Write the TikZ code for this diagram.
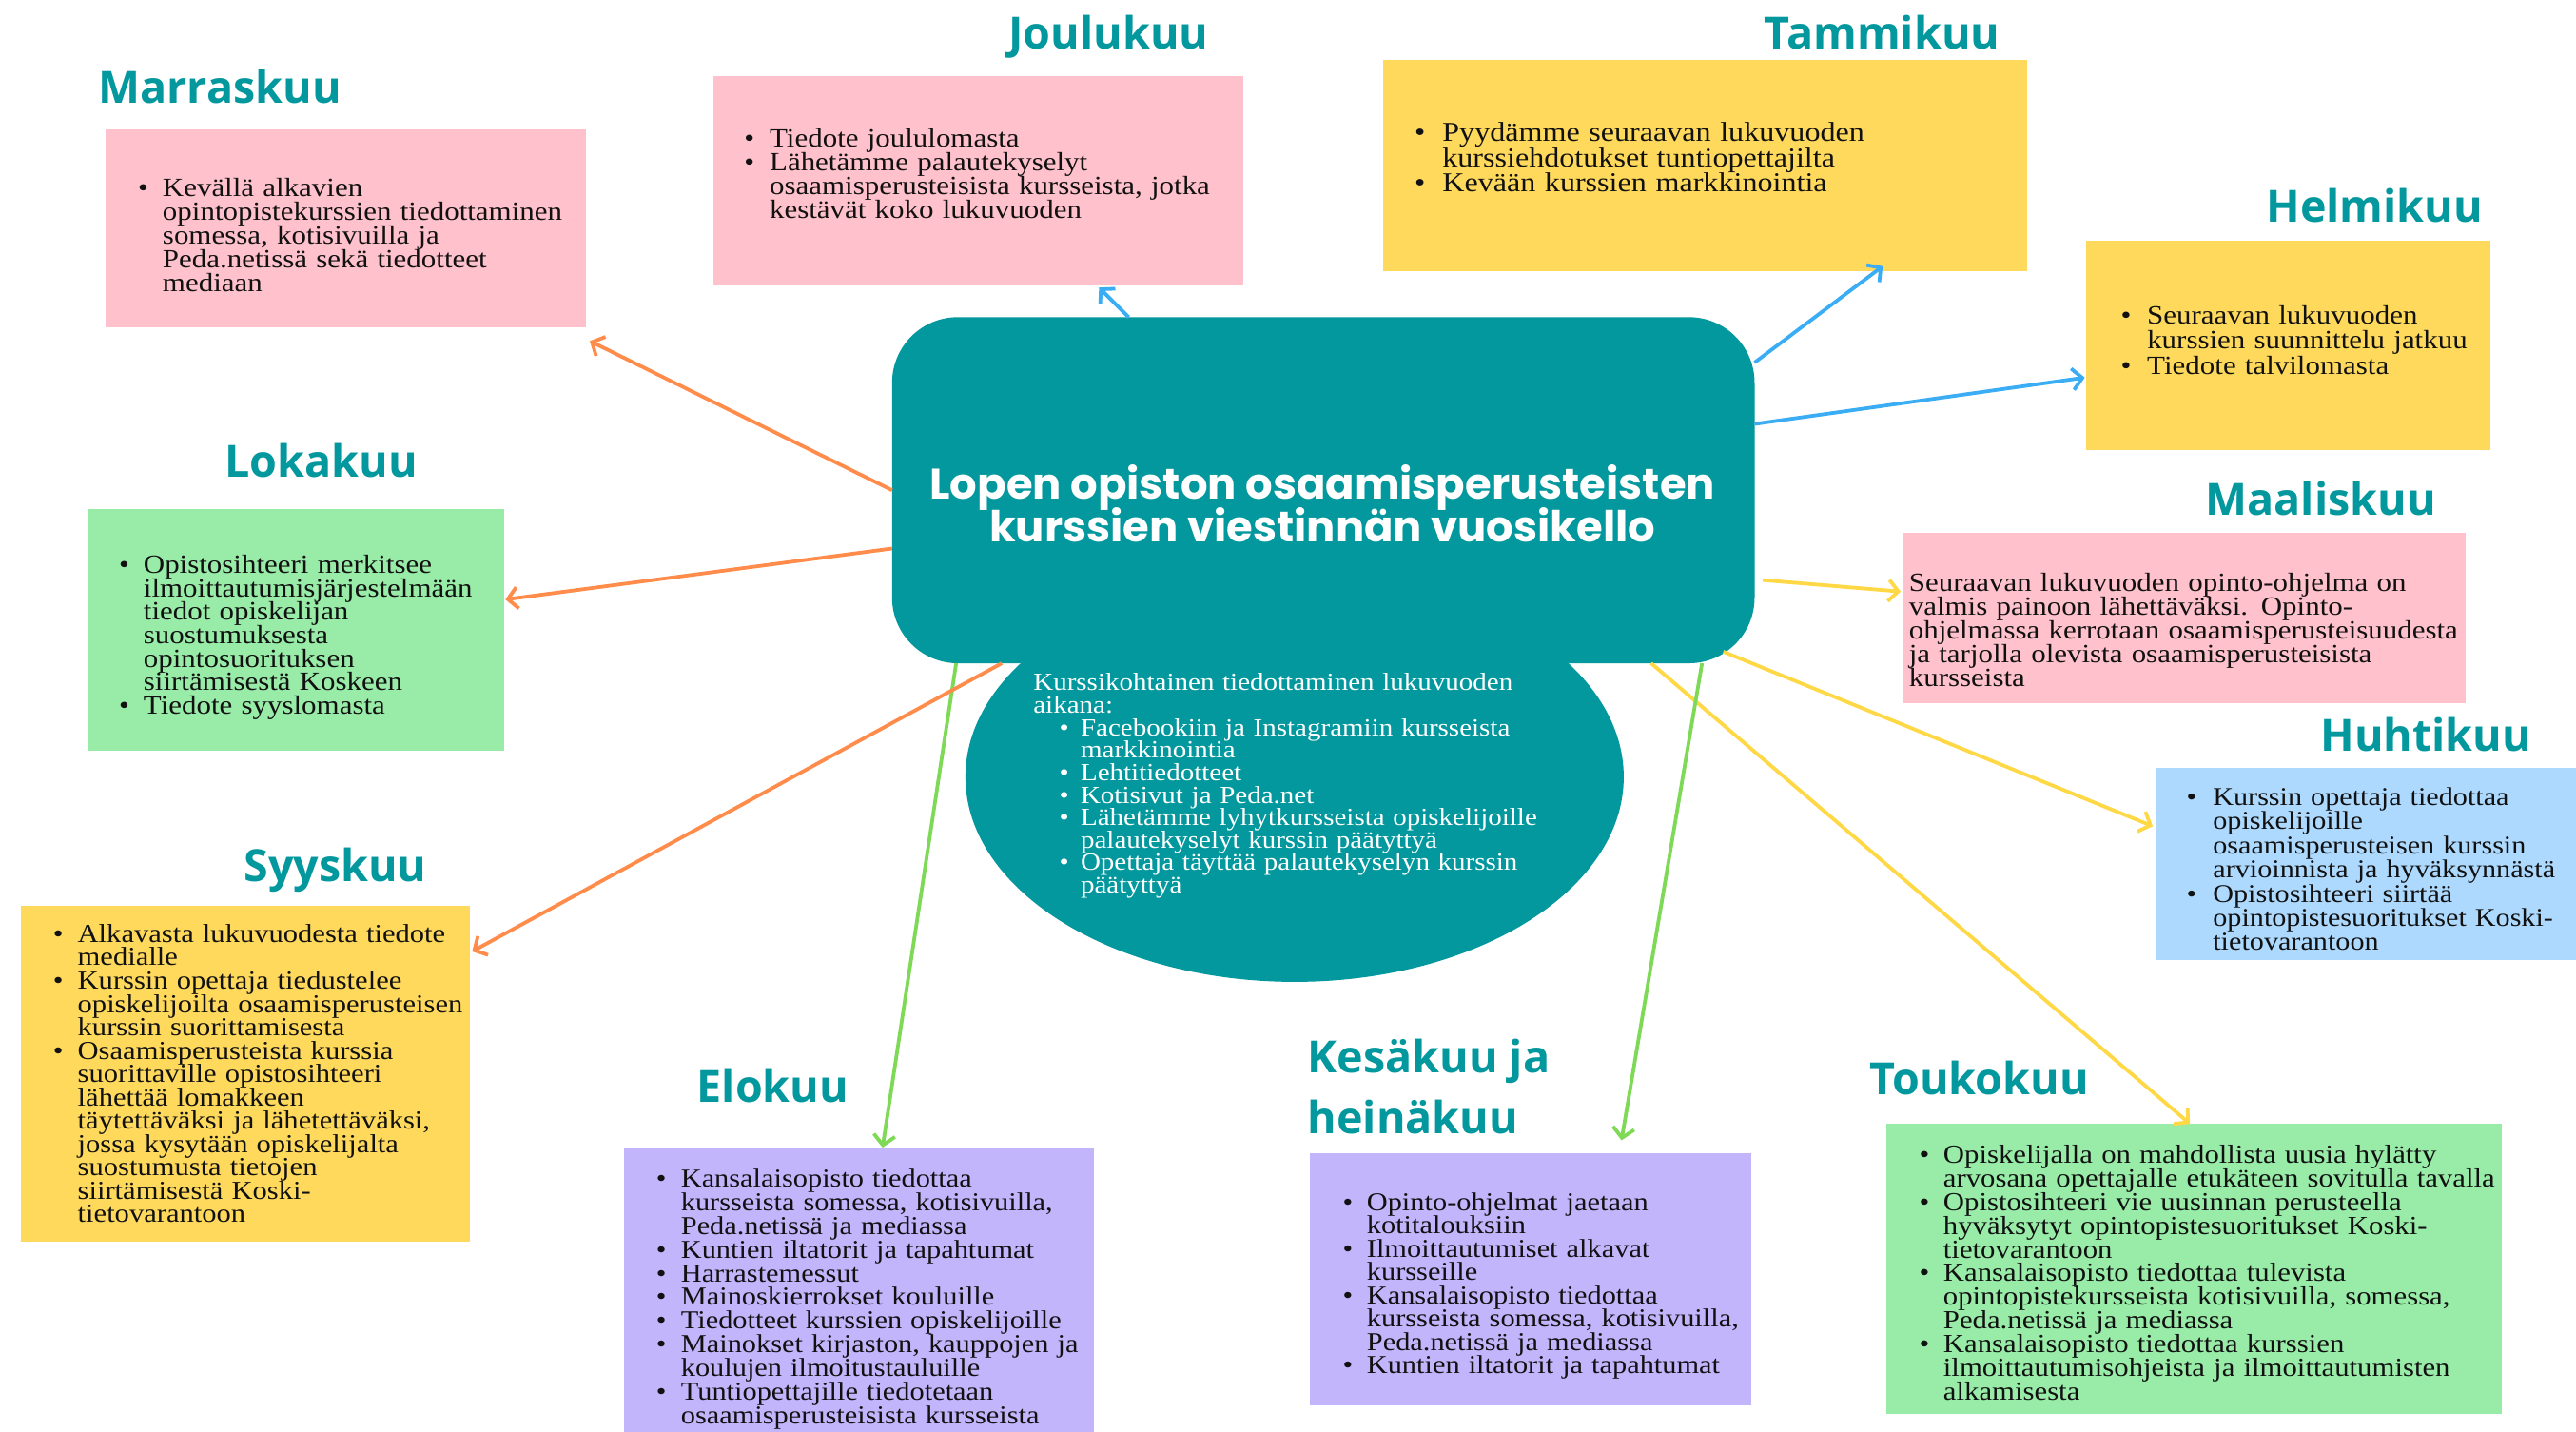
\documentclass[tikz,border=0pt]{standalone}
\usepackage{fontspec}
\setmainfont{Liberation Serif}
\newfontfamily\bodyfont{Liberation Serif}[FakeStretch=1.12]
\newfontfamily\osb{Open Sans}
\newfontfamily\popfont{Poppins}
\usetikzlibrary{shapes.geometric,arrows.meta}

\definecolor{tealc}{HTML}{03989E}
\definecolor{pinkc}{HTML}{FFC1CB}
\definecolor{yellc}{HTML}{FFD95C}
\definecolor{grnc}{HTML}{98ECA8}
\definecolor{purc}{HTML}{C2B5FC}
\definecolor{bluec}{HTML}{ADD9FE}
\definecolor{orarr}{HTML}{FF8C4A}
\definecolor{blarr}{HTML}{3BADF5}
\definecolor{yearr}{HTML}{FFD846}
\definecolor{grarr}{HTML}{7ED957}
\definecolor{txtc}{HTML}{111111}

\newlength\bulx
\newlength\txtx
\newcommand\bodyset[2]{\bodyfont\fontsize{#1}{#2}\selectfont\parskip=0pt\relax\parindent=0pt\relax\lineskiplimit=-100pt\relax\lineskip=0pt\relax\hyphenpenalty=10000\relax\exhyphenpenalty=10000\relax}
\newcommand\ttlset{\popfont\bfseries\fontsize{26}{26.3}\selectfont\lineskiplimit=-100pt\relax}
\newcommand\cl{\par\noindent\rule{0pt}{12pt}\hspace*{\txtx}}
\newcommand\itm[1]{\par\noindent\rule{0pt}{12pt}\hbox to\txtx{\hskip\bulx\textbullet\hss}\begingroup\let\newline\cl #1\endgroup}
\newcommand\lst[2]{\setlength\bulx{#1}\setlength\txtx{#2}}

\begin{document}
\begin{tikzpicture}[x=1pt,y=-1pt,
  box/.style={rectangle, inner sep=0pt, outer sep=0pt, anchor=north west, draw=none},
  txt/.style={inner sep=0pt, outer sep=0pt, anchor=north west, text width=480pt, align=left, text=txtc},
  mtitle/.style={font=\osb\bfseries\fontsize{27}{37.2}\selectfont, text=tealc, inner sep=0pt, outer sep=0pt, anchor=base west},
  arr/.style={line width=2.2pt, -{Straight Barb[length=6pt,width=13pt]}}
]
\fill[white] (0,0) rectangle (1568,871.4);
\useasboundingbox (0,0) rectangle (1568,871.4);

% boxes
\node[box, fill=pinkc, minimum width=292.7pt, minimum height=120pt] (mar) at (64,79) {};
\node[box, fill=pinkc, minimum width=323pt, minimum height=127.4pt] (jou) at (434,46.3) {};
\node[box, fill=yellc, minimum width=392pt, minimum height=128.7pt] (tam) at (842,36.3) {};
\node[box, fill=yellc, minimum width=246pt, minimum height=127.3pt] (hel) at (1270,146.7) {};
\node[box, fill=pinkc, minimum width=342.5pt, minimum height=103.2pt] (maa) at (1158.4,324.5) {};
\node[box, fill=bluec, minimum width=255.3pt, minimum height=116.7pt] (huh) at (1312.7,467.3) {};
\node[box, fill=grnc, minimum width=375pt, minimum height=176.4pt] (tou) at (1148,683.9) {};
\node[box, fill=purc, minimum width=268.4pt, minimum height=153pt] (kes) at (797.3,702) {};
\node[box, fill=purc, minimum width=286.2pt, minimum height=173.1pt] (elo) at (379.6,698.3) {};
\node[box, fill=yellc, minimum width=273.1pt, minimum height=204.6pt] (syy) at (12.9,551) {};
\node[box, fill=grnc, minimum width=254pt, minimum height=147pt] (lok) at (53,310) {};

% centre
\node[ellipse, fill=tealc, inner sep=0pt, outer sep=0pt, minimum width=400.7pt, minimum height=249.4pt] (ell) at (788,472.8) {};
\node[rectangle, rounded corners=40pt, fill=tealc, inner sep=0pt, outer sep=0pt, minimum width=525pt, minimum height=210.6pt, anchor=north west] (ctr) at (543,193) {};

% arrows
\draw[arr, orarr] (ctr.west) -- ([xshift=2.3pt,yshift=-8.5pt]mar.south east);
\draw[arr, blarr] ([xshift=144pt]ctr.north west) -- ([xshift=73.5pt,yshift=-1.3pt]jou.south);
\draw[arr, blarr] ([yshift=77.7pt]ctr.east) -- ([xshift=108pt,yshift=3pt]tam.south);
\draw[arr, blarr] ([yshift=40.3pt]ctr.east) -- ([xshift=-1pt,yshift=-19.4pt]hel.west);
\draw[arr, yearr] ([xshift=5pt,yshift=-54.7pt]ctr.east) -- ([xshift=-1.4pt,yshift=16.1pt]maa.west);
\draw[arr, yearr] ([xshift=-19pt,yshift=7pt]ctr.south east) -- ([xshift=-2.3pt,yshift=22.85pt]huh.west);
\draw[arr, yearr] ([xshift=-63pt]ctr.south east) -- ([xshift=-2.5pt]tou.north);
\draw[arr, grarr] ([xshift=-32pt]ctr.south east) -- ([xshift=55.5pt,yshift=8.1pt]kes.north);
\draw[arr, grarr] ([xshift=39pt]ctr.south west) -- ([xshift=14.5pt]elo.north);
\draw[arr, orarr] ([xshift=66.8pt]ctr.south west) -- ([xshift=1.4pt,yshift=74.3pt]syy.east);
\draw[arr, orarr] ([yshift=-35.5pt]ctr.west) -- ([xshift=0.6pt,yshift=18.7pt]lok.east);

% centre texts
\node[font=\ttlset, text=white, align=center, anchor=north, inner sep=0pt] (ttl) at (805,282.5)
 {\rule{0pt}{20pt}Lopen opiston osaamisperusteisten\\kurssien viestinnän vuosikello};
\node[txt, text=white, font={\bodyset{15}{13.7}}] (elltxt) at (629,408.2) {\lst{15.8pt}{28.8pt}%
\noindent\rule{0pt}{12pt}Kurssikohtainen tiedottaminen lukuvuoden\newline aikana:
\itm{Facebookiin ja Instagramiin kursseista\newline markkinointia}
\itm{Lehtitiedotteet}
\itm{Kotisivut ja Peda.net}
\itm{Lähetämme lyhytkursseista opiskelijoille\newline palautekyselyt kurssin päätyttyä}
\itm{Opettaja täyttää palautekyselyn kurssin\newline päätyttyä}};

% month titles
\node[mtitle] (martt) at (60,62.7) {Marraskuu};
\node[mtitle] (joutt) at (614,29.9) {Joulukuu};
\node[mtitle] (tamtt) at (1074,29.9) {Tammikuu};
\node[mtitle] (heltt) at (1379.5,135) {Helmikuu};
\node[mtitle] (maatt) at (1342.5,313.8) {Maaliskuu};
\node[mtitle] (huhtt) at (1412.5,457) {Huhtikuu};
\node[mtitle] (toutt) at (1138,665.9) {Toukokuu};
\node[mtitle, anchor=north west, align=left] (kestt) at (796,630.8) {\rule{0pt}{22pt}Kesäkuu ja\\heinäkuu};
\node[mtitle] (elott) at (424.3,670.7) {Elokuu};
\node[mtitle] (syytt) at (148.5,536.6) {Syyskuu};
\node[mtitle] (loktt) at (137,290.5) {Lokakuu};

% box texts
\node[txt, font={\bodyset{16}{14.5}}] (martxt) at (84,104.8) {\lst{0pt}{15pt}%
\itm{Kevällä alkavien\newline opintopistekurssien tiedottaminen\newline somessa, kotisivuilla ja\newline Peda.netissä sekä tiedotteet\newline mediaan}};

\node[txt, font={\bodyset{16}{14.5}}] (joutxt) at (453,74.9) {\lst{0pt}{15.5pt}%
\itm{Tiedote joululomasta}
\itm{Lähetämme palautekyselyt\newline osaamisperusteisista kursseista, jotka\newline kestävät koko lukuvuoden}};

\node[txt, font={\bodyset{16.6}{15.2}}] (tamtxt) at (861,71) {\lst{0pt}{17pt}%
\itm{Pyydämme seuraavan lukuvuoden\newline kurssiehdotukset tuntiopettajilta}
\itm{Kevään kurssien markkinointia}};

\node[txt, font={\bodyset{16}{15.2}}] (heltxt) at (1291,182) {\lst{0pt}{16pt}%
\itm{Seuraavan lukuvuoden\newline kurssien suunnittelu jatkuu}
\itm{Tiedote talvilomasta}};

\node[txt, font={\bodyset{16}{14.6}}] (maatxt) at (1162,347.6) {%
\noindent\rule{0pt}{12pt}Seuraavan lukuvuoden opinto-ohjelma on\newline valmis painoon lähettäväksi. Opinto-\newline ohjelmassa kerrotaan osaamisperusteisuudesta\newline ja tarjolla olevista osaamisperusteisista\newline kursseista};

\node[txt, font={\bodyset{15.6}{14.7}}] (huhtxt) at (1331,475.5) {\lst{0pt}{16pt}%
\itm{Kurssin opettaja tiedottaa\newline opiskelijoille\newline osaamisperusteisen kurssin\newline arvioinnista ja hyväksynnästä}
\itm{Opistosihteeri siirtää\newline opintopistesuoritukset Koski-\newline tietovarantoon}};

\node[txt, font={\bodyset{15.9}{14.4}}] (toutxt) at (1168.3,693.5) {\lst{0pt}{14.6pt}%
\itm{Opiskelijalla on mahdollista uusia hylätty\newline arvosana opettajalle etukäteen sovitulla tavalla}
\itm{Opistosihteeri vie uusinnan perusteella\newline hyväksytyt opintopistesuoritukset Koski-\newline tietovarantoon}
\itm{Kansalaisopisto tiedottaa tulevista\newline opintopistekursseista kotisivuilla, somessa,\newline Peda.netissä ja mediassa}
\itm{Kansalaisopisto tiedottaa kurssien\newline ilmoittautumisohjeista ja ilmoittautumisten\newline alkamisesta}};

\node[txt, font={\bodyset{15.7}{14.2}}] (kestxt) at (817.3,722.4) {\lst{0pt}{14.7pt}%
\itm{Opinto-ohjelmat jaetaan\newline kotitalouksiin}
\itm{Ilmoittautumiset alkavat\newline kursseille}
\itm{Kansalaisopisto tiedottaa\newline kursseista somessa, kotisivuilla,\newline Peda.netissä ja mediassa}
\itm{Kuntien iltatorit ja tapahtumat}};

\node[txt, font={\bodyset{15.7}{14.4}}] (elotxt) at (399.5,708) {\lst{0pt}{15pt}%
\itm{Kansalaisopisto tiedottaa\newline kursseista somessa, kotisivuilla,\newline Peda.netissä ja mediassa}
\itm{Kuntien iltatorit ja tapahtumat}
\itm{Harrastemessut}
\itm{Mainoskierrokset kouluille}
\itm{Tiedotteet kurssien opiskelijoille}
\itm{Mainokset kirjaston, kauppojen ja\newline koulujen ilmoitustauluille}
\itm{Tuntiopettajille tiedotetaan\newline osaamisperusteisista kursseista}};

\node[txt, font={\bodyset{15.8}{14.2}}] (syytxt) at (32.3,559.3) {\lst{0pt}{15pt}%
\itm{Alkavasta lukuvuodesta tiedote\newline medialle}
\itm{Kurssin opettaja tiedustelee\newline opiskelijoilta osaamisperusteisen\newline kurssin suorittamisesta}
\itm{Osaamisperusteista kurssia\newline suorittaville opistosihteeri\newline lähettää lomakkeen\newline täytettäväksi ja lähetettäväksi,\newline jossa kysytään opiskelijalta\newline suostumusta tietojen\newline siirtämisestä Koski-\newline tietovarantoon}};

\node[txt, font={\bodyset{16}{14.3}}] (loktxt) at (72.4,334.5) {\lst{0pt}{15pt}%
\itm{Opistosihteeri merkitsee\newline ilmoittautumisjärjestelmään\newline tiedot opiskelijan\newline suostumuksesta\newline opintosuorituksen\newline siirtämisestä Koskeen}
\itm{Tiedote syyslomasta}};
\end{tikzpicture}
\end{document}
